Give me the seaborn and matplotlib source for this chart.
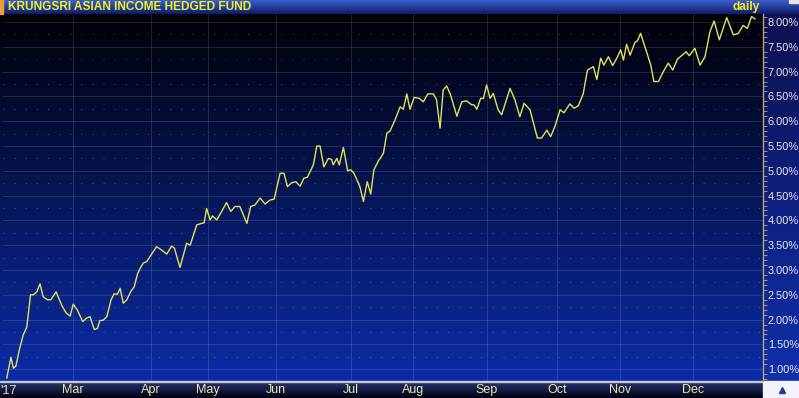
import numpy as np
import matplotlib
matplotlib.use("Agg")
import matplotlib.pyplot as plt
import seaborn as sns
from matplotlib.patches import Rectangle
from matplotlib.ticker import MultipleLocator

# ---------------- data ----------------
title = "KRUNGSRI ASIAN INCOME HEDGED FUND"
freq_label = "daily"
year_label = "'17"
month_labels = ["Mar", "Apr", "May", "Jun", "Jul", "Aug", "Sep", "Oct", "Nov", "Dec"]
month_pos = [19.5, 41.7, 58.0, 77.4, 98.9, 116.6, 137.7, 157.7, 175.7, 196.6]
y_ticks = [1.0, 1.5, 2.0, 2.5, 3.0, 3.5, 4.0, 4.5, 5.0, 5.5, 6.0, 6.5, 7.0, 7.5, 8.0]

session = [0.5, 1.7, 2.4, 3.1, 4.1, 5.2, 6.2, 7.3, 8.1, 9.1,
           10.0, 10.9, 12.1, 13.1, 14.6, 16.2, 17.4, 18.6, 19.5, 20.7,
           22.2, 23.3, 24.3, 25.5, 26.4, 27.1, 28.1, 29.1, 30.3, 31.2,
           32.1, 32.9, 33.8, 34.8, 35.9, 36.9, 37.9, 38.6, 39.5, 40.5,
           43.3, 44.8, 46.2, 47.6, 48.4, 50.0, 51.9, 52.9, 54.8, 56.2,
           56.9, 57.6, 58.6, 59.3, 60.5, 61.9, 63.3, 64.5, 65.7, 67.1,
           69.1, 70.2, 71.4, 72.9, 74.3, 75.7, 76.9,
           78.6, 79.7, 80.7, 81.9, 83.1, 84.3, 85.4, 86.4, 88.1, 89.1,
           90.0, 91.1, 92.4, 93.3, 93.8, 94.8, 95.5, 96.7, 97.9, 98.8,
           99.7, 101.4, 102.4, 103.5, 104.5, 105.4, 106.7, 108.1, 109.1, 110.0,
           111.4, 112.9, 113.8, 114.8, 115.7, 116.9, 118.4, 119.5, 120.8, 122.4,
           123.3, 124.3, 125.2, 126.2, 127.3, 129.1, 130.5, 131.9, 133.3, 134.0,
           134.8, 135.9, 136.7, 137.6, 138.6, 139.5, 140.9, 141.9, 144.3, 145.7,
           147.1, 148.3, 150.0, 152.1, 153.3, 154.8, 155.9, 157.1, 158.6, 159.7,
           161.4, 162.6, 163.8, 165.2, 166.4, 168.1, 169.1, 170.2, 171.1, 172.4,
           173.6, 174.8, 175.9, 176.7, 177.6, 178.6, 180.0, 180.7, 181.6, 183.3,
           184.5, 185.4, 186.7, 188.1, 189.5, 190.8, 192.1, 193.3, 194.6, 195.5,
           197.1, 198.6, 200.0, 201.4, 202.6, 204.1, 206.2, 208.1, 209.5, 210.9,
           212.1, 213.3, 214.3]

ret_pct = [0.82, 1.24, 1.02, 1.06, 1.39, 1.69, 1.84, 2.50, 2.50, 2.56,
           2.72, 2.46, 2.40, 2.40, 2.56, 2.29, 2.14, 2.07, 2.31, 2.19,
           1.96, 2.03, 2.06, 1.80, 1.82, 1.98, 1.99, 2.06, 2.40, 2.52,
           2.51, 2.63, 2.33, 2.40, 2.56, 2.66, 2.93, 3.03, 3.14, 3.17,
           3.47, 3.40, 3.32, 3.48, 3.44, 3.05, 3.54, 3.50, 3.91, 3.94,
           3.95, 4.24, 4.01, 4.09, 4.01, 4.18, 4.36, 4.18, 4.28, 4.28,
           3.94, 4.28, 4.31, 4.45, 4.33, 4.41, 4.43,
           4.95, 4.95, 4.68, 4.76, 4.78, 4.69, 4.85, 4.87, 5.12, 5.50,
           5.50, 5.08, 5.25, 5.23, 5.12, 5.25, 5.12, 5.47, 5.00, 5.02,
           4.95, 4.68, 4.38, 4.78, 4.53, 5.02, 5.20, 5.35, 5.76, 5.80,
           6.02, 6.29, 6.24, 6.55, 6.24, 6.48, 6.46, 6.39, 6.55, 6.55,
           6.43, 5.86, 6.63, 6.71, 6.53, 6.10, 6.39, 6.41, 6.33, 6.33,
           6.24, 6.46, 6.46, 6.73, 6.46, 6.56, 6.23, 6.13, 6.66, 6.43,
           6.09, 6.36, 6.23, 5.66, 5.66, 5.82, 5.69, 5.89, 6.23, 6.17,
           6.35, 6.26, 6.31, 6.55, 7.03, 7.10, 6.84, 7.27, 7.13, 7.30,
           7.12, 7.27, 7.44, 7.23, 7.55, 7.33, 7.59, 7.62, 7.77, 7.40,
           7.13, 6.80, 6.80, 7.00, 7.17, 7.03, 7.25, 7.32, 7.40, 7.32,
           7.47, 7.13, 7.30, 7.80, 8.02, 7.64, 8.09, 7.74, 7.77, 7.93,
           7.87, 8.11, 8.06]

# ---------------- layout ----------------
W, H = 799, 398
PLOT_L, PLOT_R, PLOT_T, PLOT_B = 3, 763, 14, 381
fig = plt.figure(figsize=(W / 100, H / 100), dpi=100)
fig.patch.set_facecolor("#000010")

bg = fig.add_axes([0, 0, 1, 1])
bg.set_xlim(0, W)
bg.set_ylim(H, 0)
bg.axis("off")


def vgrad(top, bottom, n=256, gamma=1.0):
    t = np.linspace(0, 1, n) ** gamma
    top = np.array(top) / 255.0
    bottom = np.array(bottom) / 255.0
    g = top[None, :] + (bottom - top)[None, :] * t[:, None]
    return g[:, None, :]


# plot + right panel background
bg.imshow(vgrad((0, 0, 8), (12, 44, 168), gamma=1.0), extent=[0, W, PLOT_B, PLOT_T],
          aspect="auto", origin="upper", zorder=0)
# right panel slightly lighter
bg.imshow(vgrad((14, 16, 80), (16, 48, 170)), extent=[PLOT_R, W, PLOT_B, PLOT_T],
          aspect="auto", origin="upper", zorder=0.5)
# title bar
bg.imshow(vgrad((60, 95, 205), (14, 28, 105)), extent=[0, W, PLOT_T, 0],
          aspect="auto", origin="upper", zorder=1)
# bottom bar
bg.imshow(vgrad((42, 52, 112), (0, 0, 18)), extent=[0, PLOT_R, H, PLOT_B + 1],
          aspect="auto", origin="upper", zorder=1)
bg.add_patch(Rectangle((0, PLOT_B), PLOT_R, 1.3, color="#c4c8d8", zorder=2))
# corner box and small details
bg.add_patch(Rectangle((PLOT_R, PLOT_B), W - PLOT_R, H - PLOT_B, color="#f2f3f8", zorder=2))
bg.plot([782], [390], marker="^", ms=5, color="#1a3a9a", zorder=3)
bg.add_patch(Rectangle((0, 0), 3, PLOT_T, color="#f0a030", zorder=2))
bg.add_patch(Rectangle((789, 0), 10, 3, color="#e6e6ea", zorder=2))

bg.text(8, 7, title, fontsize=8.6, fontweight="bold", color="#f2f020",
        ha="left", va="center", family=["Liberation Sans", "DejaVu Sans"], zorder=3)
bg.text(760, 7, freq_label, fontsize=8.6, fontweight="bold", color="#f2f020",
        ha="right", va="center", family=["Liberation Sans", "DejaVu Sans"], zorder=3)

# ---------------- main axes ----------------
ax = fig.add_axes([PLOT_L / W, (H - PLOT_B) / H, (PLOT_R - PLOT_L) / W, (PLOT_B - PLOT_T) / H])
ax.patch.set_alpha(0)

sns.lineplot(x=session, y=ret_pct, ax=ax, color="#e2e25a", linewidth=1.0,
             estimator=None, zorder=5)

ax.set_xlim(-0.57, 216.57)
ax.set_ylim(0.762, 8.161)

# grid
ax.set_yticks(y_ticks)
ax.set_yticklabels([f"{t:.2f}%" for t in y_ticks])
ax.yaxis.set_minor_locator(MultipleLocator(0.1))
ax.set_xticks(month_pos)
ax.set_xticklabels(month_labels)
ax.grid(which="major", axis="both", color="white", alpha=0.15, linewidth=0.6)
for t in y_ticks[:-1]:
    ax.axhline(t + 0.25, color="white", alpha=0.22, linewidth=0.8, linestyle=(0, (1, 9)), zorder=1)

ax.yaxis.tick_right()
ax.tick_params(axis="y", which="major", length=0, pad=3.5, labelcolor="#e8e8f0", labelsize=7.9)
ax.tick_params(axis="y", which="minor", right=True, left=False, length=3, width=0.6,
               color="#b8a878", direction="out")
ax.tick_params(axis="x", which="both", length=0, pad=2, labelcolor="#e8e8a4", labelsize=9)
for lab in ax.get_yticklabels():
    lab.set_fontfamily(["Liberation Sans Narrow", "Liberation Sans", "DejaVu Sans"])
for lab in ax.get_xticklabels():
    lab.set_fontfamily(["Liberation Sans", "DejaVu Sans"])

for s in ["top", "left", "bottom"]:
    ax.spines[s].set_visible(False)
ax.spines["right"].set_color("#b8a878")
ax.spines["right"].set_linewidth(1.0)

ax.text(1.0, -9.5 / (PLOT_B - PLOT_T), year_label, transform=ax.get_xaxis_transform(),
        ha="center", va="center", fontsize=9, color="#e8e8a4",
        family=["Liberation Sans", "DejaVu Sans"])

ax.set_xlabel("")
ax.set_ylabel("")

fig.savefig("out.png", dpi=100)
